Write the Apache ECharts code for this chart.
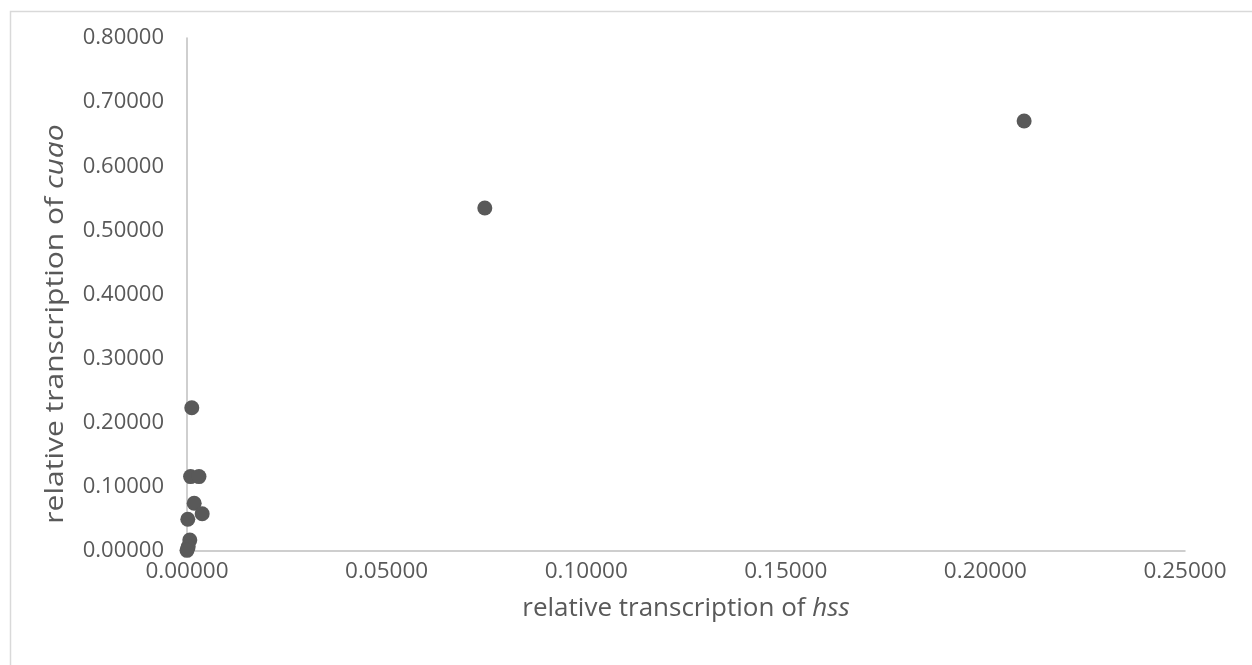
<!DOCTYPE html>
<html>
<head>
<meta charset="utf-8">
<script src="https://cdn.jsdelivr.net/npm/echarts@6/dist/echarts.min.js"></script>
<style>
html,body{margin:0;padding:0;background:#fff;}
#chart{width:1252px;height:665px;}
</style>
</head>
<body>
<div id="chart"></div>
<script>
var hssValues = [0.2097, 0.0746, 0.0012, 0.0009, 0.0030, 0.0018, 0.0038, 0.0002, 0.0007, 0.0003, 0.0000];
var cuaoValues = [0.6706, 0.5350, 0.2235, 0.1160, 0.1160, 0.0745, 0.0580, 0.0495, 0.0170, 0.0065, 0.0010];
var xTicks = {min: 0, max: 0.25, interval: 0.05};
var yTicks = {min: 0, max: 0.8, interval: 0.1};
var xTitle = ['relative transcription of ', 'hss'];
var yTitle = ['relative transcription of ', 'cuao'];

var points = hssValues.map(function (x, i) { return [x, cuaoValues[i]]; });
var font = '"Open Sans", "Noto Sans", sans-serif';
var gray = '#595959';
var chart = echarts.init(document.getElementById('chart'));
chart.setOption({
  animation: false,
  graphic: [{
    type: 'rect', left: 8, top: 9, silent: true,
    shape: {width: 1300, height: 700},
    style: {fill: 'none', stroke: '#d9d9d9', lineWidth: 1.5}
  }, {
    type: 'text', x: 56, y: 324, rotation: Math.PI / 2, scaleX: 1.2, silent: true,
    style: {
      text: '{n|' + yTitle[0] + '}{i|' + yTitle[1] + '}',
      align: 'center', verticalAlign: 'middle',
      rich: {
        n: {fill: gray, fontSize: 25, fontFamily: font},
        i: {fill: gray, fontSize: 25, fontFamily: font, fontStyle: 'italic'}
      }
    }
  }],
  grid: {left: 187, right: 67, top: 38, bottom: 114},
  xAxis: {
    type: 'value', min: xTicks.min, max: xTicks.max, interval: xTicks.interval,
    axisLine: {show: true, onZero: false, lineStyle: {color: '#bfbfbf', width: 1.5}},
    axisTick: {show: false},
    splitLine: {show: false},
    axisLabel: {color: gray, fontSize: 22.5, fontFamily: font, margin: 9,
      formatter: function (v) { return v.toFixed(5); }},
    name: '{n|' + xTitle[0] + '}{i|' + xTitle[1] + '}',
    nameLocation: 'middle', nameGap: 45,
    nameTextStyle: {rich: {
      n: {color: gray, fontSize: 26, fontFamily: font},
      i: {color: gray, fontSize: 26, fontFamily: font, fontStyle: 'italic'}
    }}
  },
  yAxis: {
    type: 'value', min: yTicks.min, max: yTicks.max, interval: yTicks.interval,
    axisLine: {show: true, onZero: false, lineStyle: {color: '#bfbfbf', width: 1.5}},
    axisTick: {show: false},
    splitLine: {show: false},
    axisLabel: {color: gray, fontSize: 22, fontFamily: font, margin: 23,
      formatter: function (v) { return v.toFixed(5); }}
  },
  series: [{
    type: 'scatter',
    data: points,
    symbol: 'circle',
    symbolSize: 15,
    itemStyle: {color: gray, opacity: 1}
  }]
});
</script>
</body>
</html>
